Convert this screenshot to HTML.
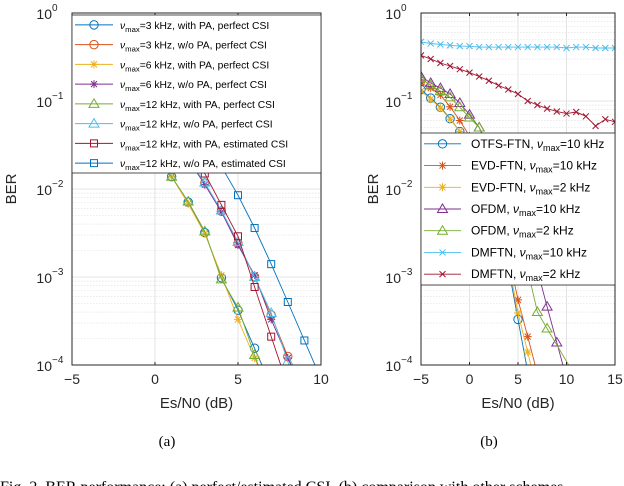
<!DOCTYPE html>
<html><head><meta charset="utf-8"><style>
body{margin:0;background:#fff;}
svg{font-family:"Liberation Sans",sans-serif;display:block}
</style></head><body>
<svg id="fig" width="624" height="486" viewBox="0 0 624 486" xmlns="http://www.w3.org/2000/svg"></svg>
<script>
// ----- data: left panel (a) -----
const xA = [-5,-4,-3,-2,-1,0,1,2,3,4,5,6,7,8,9,10];
const serA_3k_PA   = [0.14,0.1,0.07,0.05,0.034,0.022,0.0138,0.0071,0.0032,0.00098,0.00042,0.000155,null,null,null,null];
const serA_3k_noPA = [0.15,0.12,0.09,0.065,0.045,0.03,0.019,0.022,0.0117,0.0056,0.0024,0.001,0.00037,0.000125,null,null];
const serA_6k_PA   = [0.14,0.1,0.07,0.05,0.034,0.022,0.0138,0.0068,0.0031,0.00105,0.00033,0.00012,null,null,null,null];
const serA_6k_noPA = [0.15,0.12,0.09,0.065,0.045,0.03,0.019,0.022,0.0112,0.0055,0.0023,0.00105,0.00033,0.00012,null,null];
const serA_12k_PA  = [0.14,0.1,0.07,0.05,0.034,0.022,0.0138,0.0072,0.0033,0.00094,0.00045,0.00013,null,null,null,null];
const serA_12k_noPA= [0.15,0.12,0.09,0.065,0.045,0.03,0.019,0.022,0.0118,0.0057,0.0025,0.001,0.00039,0.00011,null,null];
const serA_12k_PA_est  = [0.16,0.13,0.1,0.075,0.055,0.04,0.028,0.022,0.015,0.0066,0.0029,0.00077,0.00021,null,null,null];
const serA_12k_noPA_est= [0.22,0.18,0.14,0.11,0.085,0.065,0.045,0.032,0.025,0.018,0.0085,0.0036,0.0014,0.00052,0.00019,null];
// ----- data: right panel (b) -----
const xB = [-5,-4,-3,-2,-1,0,1,2,3,4,5,6,7,8,9,10,11,12,13,14,15];
const serB_otfs10 = [0.135,0.108,0.085,0.063,0.045,0.03,0.017,0.008,0.0035,0.0013,0.00033,null,null,null,null,null,null,null,null,null,null];
const serB_evd10  = [0.16,0.14,0.117,0.086,0.06,0.04,0.022,0.011,0.005,0.0018,0.00055,0.00021,null,null,null,null,null,null,null,null,null];
const serB_evd2   = [0.13,0.105,0.083,0.062,0.045,0.03,0.018,0.009,0.004,0.0015,0.00039,0.00014,null,null,null,null,null,null,null,null,null];
const serB_ofdm10 = [0.19,0.16,0.14,0.12,0.095,0.07,0.05,0.03,0.02,0.013,0.007,0.003,0.0012,0.00046,0.00018,null,null,null,null,null,null];
const serB_ofdm2  = [0.18,0.15,0.13,0.11,0.085,0.065,0.05,0.025,0.013,0.007,0.003,0.0012,0.0004,0.00026,null,null,null,null,null,null,null];
const serB_dm10   = [0.47,0.45,0.44,0.43,0.42,0.42,0.41,0.41,0.41,0.41,0.41,0.41,0.41,0.41,0.41,0.4,0.41,0.41,0.4,0.4,0.4];
const serB_dm2    = [0.33,0.3,0.27,0.25,0.23,0.21,0.19,0.17,0.15,0.135,0.12,0.1,0.09,0.082,0.076,0.072,0.075,0.067,0.052,0.062,0.058];
const yTickLabels = ["10","10","10","10","10"];
const yTickExp = ["0","−1","−2","−3","−4"];
const xTicksA = [-5,0,5,10];
const xTicksB = [-5,0,5,10,15];

const NS="http://www.w3.org/2000/svg";
const svg=document.getElementById('fig');
function mk(tag,attrs,parent){const e=document.createElementNS(NS,tag);for(const k in attrs)e.setAttribute(k,attrs[k]);(parent||svg).appendChild(e);return e;}
const C={blue:"#0072BD",orange:"#D95319",yellow:"#EDB120",purple:"#7E2F8E",green:"#77AC30",cyan:"#4DBEEE",red:"#A2142F"};
const TOP=13,BOT=365;
function yMap(v){return TOP+(-Math.log10(v))*(BOT-TOP)/4;}

function marker(g,type,x,y,col){
  if(type==='o')mk('circle',{cx:x,cy:y,r:4.2,fill:'none',stroke:col,'stroke-width':1},g);
  else if(type==='^')mk('polygon',{points:`${x},${y-5} ${x-5},${y+3.5} ${x+5},${y+3.5}`,fill:'none',stroke:col,'stroke-width':1},g);
  else if(type==='s')mk('rect',{x:x-3.5,y:y-3.5,width:7,height:7,fill:'none',stroke:col,'stroke-width':1},g);
  else if(type==='*'){mk('path',{d:`M${x-4},${y}H${x+4}M${x},${y-4}V${y+4}M${x-3},${y-3}L${x+3},${y+3}M${x-3},${y+3}L${x+3},${y-3}`,stroke:col,'stroke-width':1},g);}
  else if(type==='x'){mk('path',{d:`M${x-3},${y-3}L${x+3},${y+3}M${x-3},${y+3}L${x+3},${y-3}`,stroke:col,'stroke-width':1},g);}
}

function panel(id,L,R,xmin,xmax,xticks,series,xs,legend,ylabX){
  const g=mk('g',{});
  const xMap=v=>L+(v-xmin)*(R-L)/(xmax-xmin);
  mk('rect',{x:L,y:TOP,width:R-L,height:BOT-TOP,fill:'#fff'},g);
  const grid=mk('g',{},g);
  for(let d=0;d<4;d++){for(let m=2;m<=9;m++){const y=yMap(Math.pow(10,-d-1)*m);mk('line',{x1:L,x2:R,y1:y,y2:y,stroke:'#ddd','stroke-width':0.6,'stroke-dasharray':'1.5,1.5'},grid);}}
  for(let d=1;d<4;d++){const y=yMap(Math.pow(10,-d));mk('line',{x1:L,x2:R,y1:y,y2:y,stroke:'#dcdcdc','stroke-width':0.8},grid);}
  xticks.forEach(t=>{const x=xMap(t);mk('line',{x1:x,x2:x,y1:TOP,y2:BOT,stroke:'#dcdcdc','stroke-width':0.8},grid);});
  const clip='clip-'+id;const cp=mk('clipPath',{id:clip},g);mk('rect',{x:L,y:TOP,width:R-L,height:BOT-TOP},cp);
  const sg=mk('g',{'clip-path':`url(#${clip})`},g);
  series.forEach(s=>{
    const sgr=mk('g',{},sg);
    let d='';s.data.forEach((v,i)=>{if(v==null)return;d+=(d?'L':'M')+xMap(xs[i]).toFixed(1)+','+yMap(v).toFixed(1);});
    let last=-1;s.data.forEach((v,i)=>{if(v!=null)last=i;});
    if(last<xs.length-1&&last>0){const v1=s.data[last-1],v2=s.data[last];const slope=(Math.log10(v2)-Math.log10(v1));const dx=(-4-Math.log10(v2))/slope;d+='L'+xMap(xs[last]+dx*1.05).toFixed(1)+','+yMap(Math.pow(10,Math.log10(v2)+slope*dx*1.05)).toFixed(1);}
    mk('path',{d:d,fill:'none',stroke:s.col,'stroke-width':0.9},sgr);
    s.data.forEach((v,i)=>{if(v==null)return;marker(sgr,s.m,xMap(xs[i]),yMap(v),s.col);});
  });
  mk('rect',{x:L,y:TOP,width:R-L,height:BOT-TOP,fill:'none',stroke:'#262626','stroke-width':1},g);
  xticks.forEach(t=>{const x=xMap(t);mk('line',{x1:x,x2:x,y1:BOT,y2:BOT-3,stroke:'#262626'},g);mk('line',{x1:x,x2:x,y1:TOP,y2:TOP+3,stroke:'#262626'},g);
    const tx=mk('text',{x:x,y:BOT+19,'font-size':14,'text-anchor':'middle',fill:'#262626',},g);tx.textContent=(t<0?'−':'')+Math.abs(t);});
  yTickLabels.forEach((lab,i)=>{const y=TOP+i*(BOT-TOP)/4;
    const tx=mk('text',{x:L-20,y:y+6,'font-size':14,'text-anchor':'end',fill:'#262626',},g);tx.textContent=lab;
    const ex=mk('text',{x:L-20,y:y-2,'font-size':10,'text-anchor':'start',fill:'#262626'},g);ex.textContent=yTickExp[i];});
  const xl=mk('text',{x:(L+R)/2,y:BOT+43,'font-size':15,'text-anchor':'middle',fill:'#262626',},g);xl.textContent='Es/N0 (dB)';
  const yl=mk('text',{x:0,y:0,'font-size':15,'text-anchor':'middle',fill:'#262626',transform:`translate(${ylabX},${(TOP+BOT)/2}) rotate(-90)`,},g);yl.textContent='BER';
  const lg=mk('g',{},g);
  mk('rect',{x:legend.x,y:legend.y,width:legend.w,height:legend.h,fill:'#fff',stroke:'#262626','stroke-width':0.8},lg);
  const rowH=legend.h/series.length;
  series.forEach((s,i)=>{const cy=legend.y+rowH*(i+0.5);
    const e=mk('g',{},lg);
    mk('line',{x1:legend.x+3,x2:legend.x+legend.lw,y1:cy,y2:cy,stroke:s.col,'stroke-width':0.9},e);
    marker(e,s.m,legend.x+3+(legend.lw-3)/2,cy,s.col);
    const t=mk('text',{x:legend.x+legend.tx,y:cy+4,'font-size':legend.fs,fill:'#000'},e);
    s.label.forEach(p=>{const ts=mk('tspan',p.sub?{'font-size':legend.fs*0.75,dy:3}:(p.after?{dy:-3}:{}),t);if(p.it)ts.setAttribute('font-style','italic');ts.textContent=p.t;});
  });
}
const nu=[{t:'ν',it:true},{t:'max',sub:true}];
const lbA=s=>[...nu,{t:s,after:true}];
panel('panel-a',72,321,-5,10,xTicksA,[
 {name:'series-3k-pa',data:serA_3k_PA,col:C.blue,m:'o',label:lbA('=3 kHz, with PA, perfect CSI')},
 {name:'series-3k-nopa',data:serA_3k_noPA,col:C.orange,m:'o',label:lbA('=3 kHz, w/o PA, perfect CSI')},
 {name:'series-6k-pa',data:serA_6k_PA,col:C.yellow,m:'*',label:lbA('=6 kHz, with PA, perfect CSI')},
 {name:'series-6k-nopa',data:serA_6k_noPA,col:C.purple,m:'*',label:lbA('=6 kHz, w/o PA, perfect CSI')},
 {name:'series-12k-pa',data:serA_12k_PA,col:C.green,m:'^',label:lbA('=12 kHz, with PA, perfect CSI')},
 {name:'series-12k-nopa',data:serA_12k_noPA,col:C.cyan,m:'^',label:lbA('=12 kHz, w/o PA, perfect CSI')},
 {name:'series-12k-pa-est',data:serA_12k_PA_est,col:C.red,m:'s',label:lbA('=12 kHz, with PA, estimated CSI')},
 {name:'series-12k-nopa-est',data:serA_12k_noPA_est,col:C.blue,m:'s',label:lbA('=12 kHz, w/o PA, estimated CSI')}
],xA,{x:72,y:15,w:249,h:158,fs:10.3,lw:41,tx:48},16);
const lbB=(a,b)=>[{t:a},...nu,{t:b,after:true}];
panel('panel-b',421,615,-5,15,xTicksB,[
 {name:'series-otfs-10k',data:serB_otfs10,col:C.blue,m:'o',label:lbB('OTFS-FTN, ','=10 kHz')},
 {name:'series-evd-10k',data:serB_evd10,col:C.orange,m:'*',label:lbB('EVD-FTN, ','=10 kHz')},
 {name:'series-evd-2k',data:serB_evd2,col:C.yellow,m:'*',label:lbB('EVD-FTN, ','=2 kHz')},
 {name:'series-ofdm-10k',data:serB_ofdm10,col:C.purple,m:'^',label:lbB('OFDM, ','=10 kHz')},
 {name:'series-ofdm-2k',data:serB_ofdm2,col:C.green,m:'^',label:lbB('OFDM, ','=2 kHz')},
 {name:'series-dmftn-10k',data:serB_dm10,col:C.cyan,m:'x',label:lbB('DMFTN, ','=10 kHz')},
 {name:'series-dmftn-2k',data:serB_dm2,col:C.red,m:'x',label:lbB('DMFTN, ','=2 kHz')}
],xB,{x:421,y:133,w:194,h:152,fs:12,lw:40,tx:50},378);
function txt(x,y,s,size,name){const t=mk('text',{x:x,y:y,'font-size':size,'text-anchor':'middle','font-family':'Liberation Serif, serif',fill:'#000',});t.textContent=s;}
txt(167,446,'(a)',15,'subcaption-a');
txt(489,446,'(b)',15,'subcaption-b');
const cap=mk('text',{x:0,y:492,'font-size':16,'font-family':'Liberation Serif, serif',fill:'#000',});
cap.textContent='Fig. 2.   BER performance: (a) perfect/estimated CSI, (b) comparison with other schemes';
</script>
</body></html>
